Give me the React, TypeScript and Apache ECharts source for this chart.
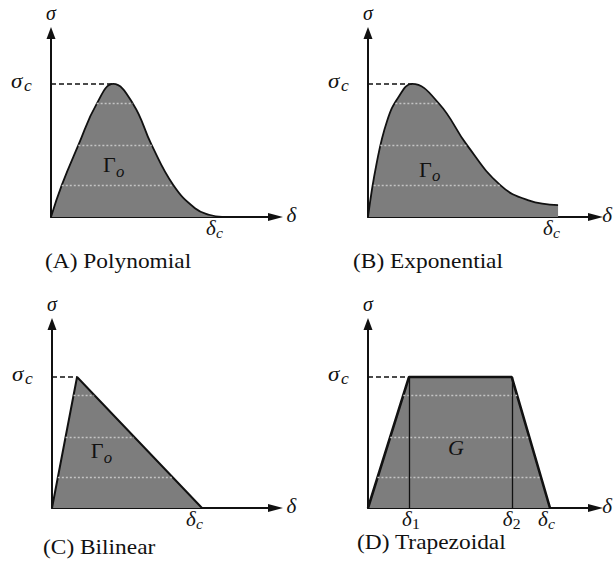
import React, { useEffect, useRef } from 'react';
import * as echarts from 'echarts';

// ---- Data (δ/δc on x, σ/σc on y) ----
const polyDelta = [0, 0.063, 0.16, 0.267, 0.364, 0.48, 0.589, 0.715, 0.842, 0.93, 1.0];
const polySigma = [0, 0.24, 0.54, 0.85, 1.0, 0.85, 0.54, 0.24, 0.066, 0.015, 0];

const expDelta = [0, 0.045, 0.1, 0.16, 0.232, 0.372, 0.521, 0.696, 0.845, 1.0];
const expSigma = [0, 0.4, 0.72, 0.9, 1.0, 0.855, 0.54, 0.24, 0.125, 0.09];

const bilDelta = [0, 0.167, 1.0];
const bilSigma = [0, 1.0, 0];

const trapDelta = [0, 0.225, 0.79, 1.0];
const trapSigma = [0, 1.0, 1.0, 0];

// light dotted texture lines inside each shape: level, left end, right end
const polyHatchLevel = [0.855, 0.541, 0.241];
const polyHatchLeft = [0.267, 0.16, 0.063];
const polyHatchRight = [0.48, 0.589, 0.715];

const expHatchLevel = [0.855, 0.541, 0.241];
const expHatchLeft = [0.144, 0.065, 0.03];
const expHatchRight = [0.372, 0.521, 0.696];

const bilHatchLevel = [0.863, 0.544, 0.231];
const bilHatchLeft = [0.144, 0.091, 0.039];
const bilHatchRight = [0.281, 0.547, 0.808];

const trapHatchLevel = [0.863, 0.544, 0.231];
const trapHatchLeft = [0.194, 0.122, 0.052];
const trapHatchRight = [0.819, 0.886, 0.951];

const captions = ['(A) Polynomial', '(B) Exponential', '(C) Bilinear', '(D) Trapezoidal'];
const areaLabels = [
  ['Γ', 'o'],
  ['Γ', 'o'],
  ['Γ', 'o'],
  ['G', ''],
];
// x-axis marks: value and subscript of δ
const trapMarks = [0.225, 0.79, 1.0];
const trapMarkSubs = ['1', '2', 'c'];

// ---- Layout ----
const layouts = [
  { left: 51, top: 33, width: 224.5, height: 184, xMax: 1.313, yMax: 1.383, areaAt: [0.304, 0.387], capDx: -6, capDy: 45, dcDx: -16, edge: false },
  { left: 368, top: 33, width: 227.5, height: 184, xMax: 1.197, yMax: 1.383, areaAt: [0.268, 0.353], capDx: -15, capDy: 45, dcDx: -15, edge: true },
  { left: 52, top: 324, width: 223.5, height: 184, xMax: 1.49, yMax: 1.405, areaAt: [0.258, 0.431], capDx: -9, capDy: 40, dcDx: -16, edge: false },
  { left: 368, top: 324, width: 227.5, height: 184, xMax: 1.25, yMax: 1.405, areaAt: [0.44, 0.454], capDx: -11, capDy: 35, dcDx: -12, edge: true },
];

const panels = [
  { delta: polyDelta, sigma: polySigma, smooth: 0.45, width: 1.8, hl: polyHatchLevel, hL: polyHatchLeft, hR: polyHatchRight },
  { delta: expDelta, sigma: expSigma, smooth: 0.45, width: 1.8, hl: expHatchLevel, hL: expHatchLeft, hR: expHatchRight },
  { delta: bilDelta, sigma: bilSigma, smooth: false, width: 2, hl: bilHatchLevel, hL: bilHatchLeft, hR: bilHatchRight },
  { delta: trapDelta, sigma: trapSigma, smooth: false, width: 2.6, hl: trapHatchLevel, hL: trapHatchLeft, hR: trapHatchRight },
];

const SERIF = "'Liberation Serif', 'Times New Roman', serif";
const INK = '#111';
const GRAY = '#7d7d7d';

function txt(x: number, y: number, text: string, size: number, italic: boolean, align: string = 'left', sx = 1) {
  return {
    type: 'text',
    x,
    y,
    scaleX: sx,
    silent: true,
    z: 100,
    style: {
      text,
      fill: INK,
      fontFamily: SERIF,
      fontSize: size,
      fontStyle: italic ? 'italic' : 'normal',
      align,
      textAlign: align,
      verticalAlign: 'middle',
      textVerticalAlign: 'middle',
    },
  };
}

export default function App() {
  const ref = useRef<HTMLDivElement>(null);

  useEffect(() => {
    const chart = echarts.init(ref.current!, null, { renderer: 'svg' });

    const grid = layouts.map((l) => ({
      left: l.left,
      top: l.top,
      width: l.width,
      height: l.height,
      containLabel: false,
      outerBoundsMode: 'none',
    }));

    const xAxis = layouts.map((l, i) => ({
      type: 'value',
      gridIndex: i,
      min: 0,
      max: l.xMax,
      axisLine: {
        show: true,
        onZero: false,
        symbol: ['none', 'triangle'],
        symbolSize: [8, 15],
        lineStyle: { color: INK, width: 2 },
      },
      axisTick: { show: false },
      axisLabel: { show: false },
      splitLine: { show: false },
    }));

    const yAxis = layouts.map((l, i) => ({
      type: 'value',
      gridIndex: i,
      min: 0,
      max: l.yMax,
      axisLine: {
        show: true,
        onZero: false,
        symbol: ['none', 'triangle'],
        symbolSize: [9, 12],
        lineStyle: { color: INK, width: 2 },
      },
      axisTick: { show: false },
      axisLabel: { show: false },
      splitLine: { show: false },
    }));

    const series = panels.map((p, i) => {
      const peakIdx = p.sigma.indexOf(Math.max(...p.sigma));
      const peakX = p.delta[peakIdx];
      const lines: any[] = [
        [
          { coord: [0, 1], lineStyle: { type: [5, 3], color: INK, width: 1.5 } },
          { coord: [peakX, 1] },
        ],
      ];
      p.hl.forEach((lev, k) => {
        lines.push([
          { coord: [p.hL[k], lev], lineStyle: { type: [2, 2], color: '#c4c4c4', width: 1.3 } },
          { coord: [p.hR[k], lev] },
        ]);
      });
      if (i === 3) {
        trapMarks.slice(0, 2).forEach((m) => {
          lines.push([
            { coord: [m, 1], lineStyle: { type: 'solid', color: INK, width: 1.3 } },
            { coord: [m, 0] },
          ]);
        });
      }
      return {
        type: 'line',
        xAxisIndex: i,
        yAxisIndex: i,
        data: p.delta.map((d, k) => [d, p.sigma[k]]),
        smooth: p.smooth,
        showSymbol: false,
        symbol: 'none',
        lineStyle: { color: INK, width: p.width },
        areaStyle: { color: GRAY, opacity: 1 },
        markLine: {
          silent: true,
          symbol: ['none', 'none'],
          label: { show: false },
          animation: false,
          data: lines,
        },
      };
    });

    chart.setOption({
      animation: false,
      backgroundColor: '#fff',
      grid,
      xAxis,
      yAxis,
      series,
    });

    const g: any[] = [];
    layouts.forEach((l, i) => {
      const px = (pt: number[]) => chart.convertToPixel({ gridIndex: i } as any, pt) as number[];
      const [ox, oy] = px([0, 0]);
      const [, topY] = px([0, l.yMax]);
      const [rightX] = px([l.xMax, 0]);
      const [, sy] = px([0, 1]);
      // axis titles
      g.push(txt(ox, topY - 20, 'σ', 20, true, 'center'));
      if (l.edge) g.push(txt(612, oy - 2, 'δ', 21, true, 'right'));
      else g.push(txt(rightX + 11, oy - 2, 'δ', 21, true, 'left'));
      // σc
      g.push(txt(ox - 40, sy - 3, 'σ', 21, true, 'left', 1.1));
      g.push(txt(ox - 27, sy + 2, 'c', 16, true, 'left', 1.1));
      // δ marks
      const marks = i === 3 ? trapMarks : [1.0];
      const subs = i === 3 ? trapMarkSubs : ['c'];
      marks.forEach((m, k) => {
        const [mx] = px([m, 0]);
        const dx = subs[k] === 'c' ? l.dcDx : subs[k] === '1' ? -7 : -9;
        g.push(txt(mx + dx, oy + 11, 'δ', 20, true, 'left', 1.05));
        g.push(txt(mx + dx + 10, oy + 16, subs[k], 15, subs[k] === 'c', 'left', 1.05));
      });
      // area label
      const [ax, ay] = px(l.areaAt);
      const [main, sub] = areaLabels[i];
      g.push(txt(ax, ay, main, 21, main === 'G', 'left', 1.05));
      if (sub) g.push(txt(ax + 13, ay + 6, sub, 16, true, 'left', 1.05));
      // caption
      g.push(txt(ox + l.capDx, oy + l.capDy, captions[i], 20, false, 'left', 1.17));
    });
    chart.setOption({ graphic: g });

    return () => chart.dispose();
  }, []);

  return (
    <div
      ref={ref}
      style={{ position: 'fixed', left: 0, top: 0, width: 613, height: 574, background: '#fff' }}
    />
  );
}
